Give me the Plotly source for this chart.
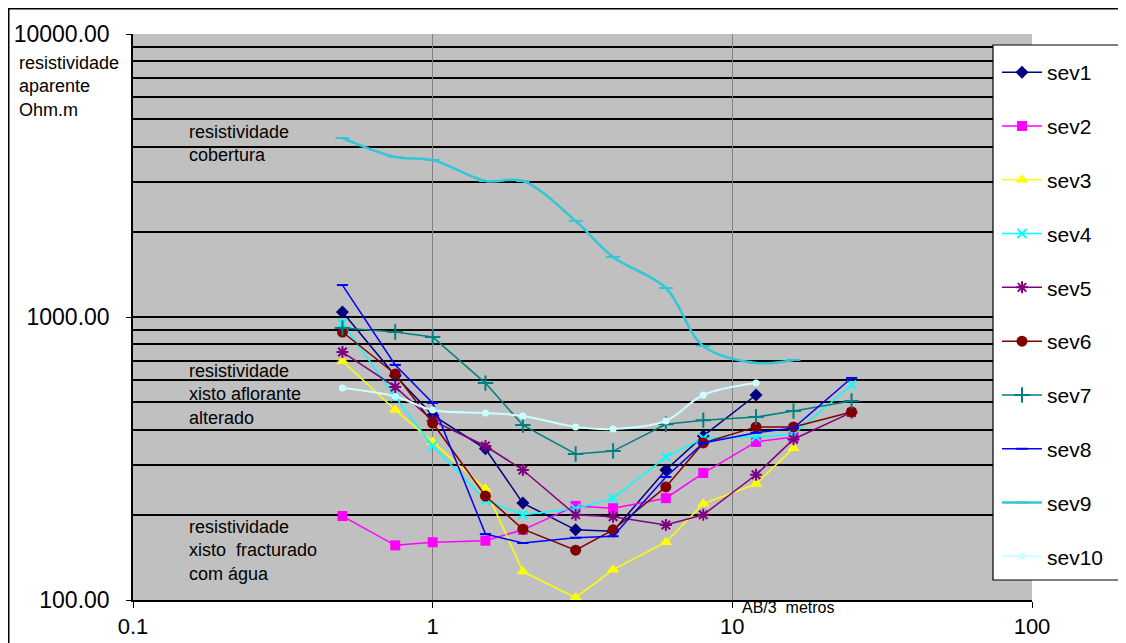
import plotly.graph_objects as go

# AB/3 spacing (metres)
ab3 = [0.5, 0.75, 1, 1.5, 2, 3, 4, 6, 8, 12, 16, 25]

sev1 = [1042, 620, 450, 342, 220, 177, 175, 288, 380, 530]
sev2 = [198, 156, 160, 162, 177, 215, 211, 229, 281, 362, 377]
sev3 = [699, 469, 362, 247, 126, 102, 128, 160, 219, 257, 344]
sev4 = [950, 522, 350, 225, 200, 210, 229, 320, 373, 377, 385, 575]
sev5 = [752, 566, 430, 350, 288, 200, 197, 184, 200, 277, 370, 460]
sev6 = [885, 629, 422, 233, 178, 150, 177, 251, 359, 409, 409, 462]
sev7 = [915, 885, 850, 584, 415, 328, 336, 418, 432, 443, 465, 505]
sev8 = [1297, 677, 497, 171, 159, 166, 168, 272, 359, 390, 405, 609]
sev9 = [4290, 3675, 3588, 3024, 3024, 2185, 1629, 1266, 790, 688, 705]
sev10 = [561, 524, 469, 458, 447, 409, 402, 429, 530, 584]

series = [
    ("sev1", sev1, "#000080", "diamond", 10, 1.5, "linear"),
    ("sev2", sev2, "#FF00FF", "square", 10, 1.5, "linear"),
    ("sev3", sev3, "#FFFF00", "triangle-up", 11, 1.5, "linear"),
    ("sev4", sev4, "#00FFFF", "x-thin-open", 9, 1.5, "linear"),
    ("sev5", sev5, "#800080", "asterisk-open", 10, 1.5, "linear"),
    ("sev6", sev6, "#800000", "circle", 11, 1.5, "linear"),
    ("sev7", sev7, "#008080", "cross-thin-open", 11, 1.5, "linear"),
    ("sev8", sev8, "#0000FF", "line-ew-open", 8, 1.5, "linear"),
    ("sev9", sev9, "#33C6D6", "line-ew-open", 10, 2.5, "spline"),
    ("sev10", sev10, "#CCFFFF", "circle", 7, 2, "spline"),
]

fig = go.Figure()
for i, (name, vals, col, sym, size, lw, shape) in enumerate(series):
    open_sym = sym.endswith("-open")
    fig.add_trace(go.Scatter(
        x=ab3[:len(vals)], y=vals, name=name, mode="lines+markers",
        line=dict(color=col, width=lw, shape=shape),
        marker=dict(symbol=sym, size=size, color=col,
                    line=dict(color=col, width=2 if open_sym else 0)),
        legendgroup=name,
    ))

font = "Liberation Sans, Arial, sans-serif"

# The page body adds an 8px margin, so the figure is 8px smaller and shifted.
L, T, R, B = 125, 26, 94, 43
W, H = 1118, 635
PW, PH = W - L - R, H - T - B  # 899 x 566


def px(xw):
    """window x pixel -> paper x"""
    return (xw - 8 - L) / PW


def py(yw):
    """window y pixel -> paper y"""
    return (T + PH - (yw - 8)) / PH


fig.update_layout(
    width=W, height=H,
    margin=dict(l=L, r=R, t=T, b=B, autoexpand=False),
    paper_bgcolor="white", plot_bgcolor="#C0C0C0",
    font=dict(family=font, color="black"),
    showlegend=True,
    legend=dict(
        x=px(997), y=py(52), xanchor="left", yanchor="top",
        bgcolor="rgba(0,0,0,0)", borderwidth=0,
        font=dict(size=21, family=font), tracegroupgap=23.5,
        itemwidth=40,
    ),
    xaxis=dict(
        type="log", range=[-1, 2], automargin=False,
        tickvals=[0.1, 1, 10, 100], ticktext=["0.1", "1", "10", "100"],
        showgrid=True, gridcolor="#808080", gridwidth=1,
        showline=True, linecolor="black", linewidth=1.5,
        ticks="outside", ticklen=6, tickcolor="black",
        tickfont=dict(size=22), zeroline=False,
    ),
    yaxis=dict(
        type="log", range=[2, 4], automargin=False,
        tickvals=[100, 1000, 10000], ticktext=["100.00", "1000.00", "10000.00"],
        showgrid=True, gridcolor="black", gridwidth=1.5,
        minor=dict(tickvals=[200, 300, 400, 500, 600, 700, 800, 900,
                             2000, 3000, 4000, 5000, 6000, 7000, 8000, 9000],
                   showgrid=True, gridcolor="black", gridwidth=1.5, ticks=""),
        showline=True, linecolor="black", linewidth=1.5,
        ticks="outside", ticklen=5, tickcolor="black",
        tickfont=dict(size=23), ticklabelstandoff=12, zeroline=False,
    ),
)

ann_font = dict(size=18, family=font, color="black")
annotations = [
    ("resistividade<br>aparente<br>Ohm.m", 17, 86),
    ("resistividade<br>cobertura", 187, 143),
    ("resistividade<br>xisto aflorante<br>alterado", 187, 394),
    ("resistividade<br>xisto\u00a0 fracturado<br>com água", 187, 550),
]
for text, ax, ay in annotations:
    fig.add_annotation(text=text, x=px(ax), y=py(ay), xref="paper", yref="paper",
                       xanchor="left", yanchor="middle", align="left",
                       showarrow=False, font=ann_font)
fig.add_annotation(text="AB/3\u00a0 metros", x=px(740), y=py(607), xref="paper", yref="paper",
                   xanchor="left", yanchor="middle", showarrow=False,
                   font=dict(size=16, family=font, color="black"))

# outer chart frame
fig.add_shape(type="rect", xref="paper", yref="paper",
              x0=px(8.75), x1=px(1140), y0=py(660), y1=py(8.75),
              line=dict(color="black", width=1.5), layer="below")

# legend box
fig.add_shape(type="rect", xref="paper", yref="paper",
              x0=px(993), x1=px(1121), y0=py(580), y1=py(45),
              fillcolor="white", line=dict(color="black", width=1.2), layer="above")

fig.write_html("out.html")
